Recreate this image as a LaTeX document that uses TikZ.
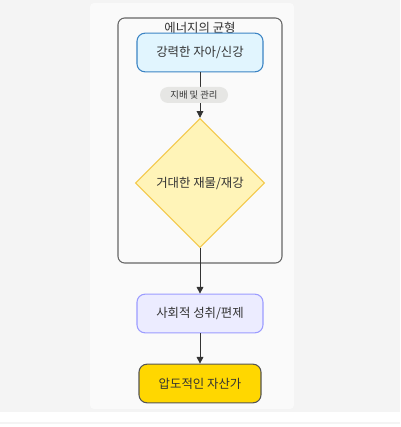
\documentclass[tikz,border=0pt]{standalone}
\usepackage{fontspec}
\setmainfont{Noto Sans CJK KR}
\usepackage{tikz}
\usetikzlibrary{shapes,arrows,arrows.meta}

\definecolor{outergray}{HTML}{F4F4F4}
\definecolor{panelgray}{HTML}{FAFAFA}
\definecolor{clusterline}{HTML}{666666}
\definecolor{textdark}{HTML}{333333}
\definecolor{egofill}{HTML}{E1F5FE}
\definecolor{egoline}{HTML}{3C84C4}
\definecolor{wealthfill}{HTML}{FFF4B8}
\definecolor{wealthline}{HTML}{F4C84A}
\definecolor{socialfill}{HTML}{ECECFF}
\definecolor{socialline}{HTML}{9C9CFF}
\definecolor{goldfill}{HTML}{FFD700}
\definecolor{goldline}{HTML}{555555}
\definecolor{pillfill}{HTML}{E6E6E4}

\tikzset{
  flownode/.style={rounded corners=6pt, line width=0.8pt, minimum width=94.5pt, minimum height=29pt, inner sep=0pt, text=textdark, font=\fontsize{9.3}{11}\selectfont},
  flowarrow/.style={-{Triangle[length=5pt,width=5pt]}, draw=textdark, line width=0.7pt},
}

\begin{document}
\begin{tikzpicture}[x=0.75pt,y=0.75pt,yscale=-1,xscale=1]
    \useasboundingbox (0,0) rectangle (400,427);

    %Background
    \fill [white] (0,0) rectangle (400,427);
    \fill [outergray] (0,0) rectangle (400,412);
    \fill [panelgray, rounded corners=3pt] (90,3) rectangle (294,409);
    \draw [outergray, line width=0.8pt] (0,423) -- (400,423);

    %Cluster
    \draw [clusterline, line width=0.8pt, rounded corners=5pt] (118,18) rectangle (282,263);
    % Text Node
    \node (title) [text=textdark, font=\fontsize{9.3}{11}\selectfont, inner sep=0.75pt] at (200,28) {에너지의 균형};

    %Nodes
    \node (ego) [flownode, draw=egoline, fill=egofill] at (200,52.5) {강력한 자아/신강};
    \node (wealth) [diamond, draw=wealthline, fill=wealthfill, line width=0.8pt, minimum width=97pt, minimum height=97pt, inner sep=0pt, text=textdark, font=\fontsize{9.3}{11}\selectfont] at (200,183) {거대한 재물/재강};
    \node (social) [flownode, draw=socialline, fill=socialfill] at (200,313.5) {사회적 성취/편제};
    \node (gold) [flownode, draw=goldline, fill=goldfill, minimum width=91.5pt] at (200,383.5) {압도적인 자산가};

    %Connectors
    \draw [flowarrow] (ego) -- (wealth);
    \node (rule) [fill=pillfill, rounded corners=6pt, text=textdark, font=\fontsize{7}{8}\selectfont, minimum width=51pt, minimum height=12pt, inner sep=1pt] at (194,95) {지배 및 관리};
    \draw [flowarrow] (wealth) -- (social);
    \draw [flowarrow] (social) -- (gold);

\end{tikzpicture}
\end{document}
